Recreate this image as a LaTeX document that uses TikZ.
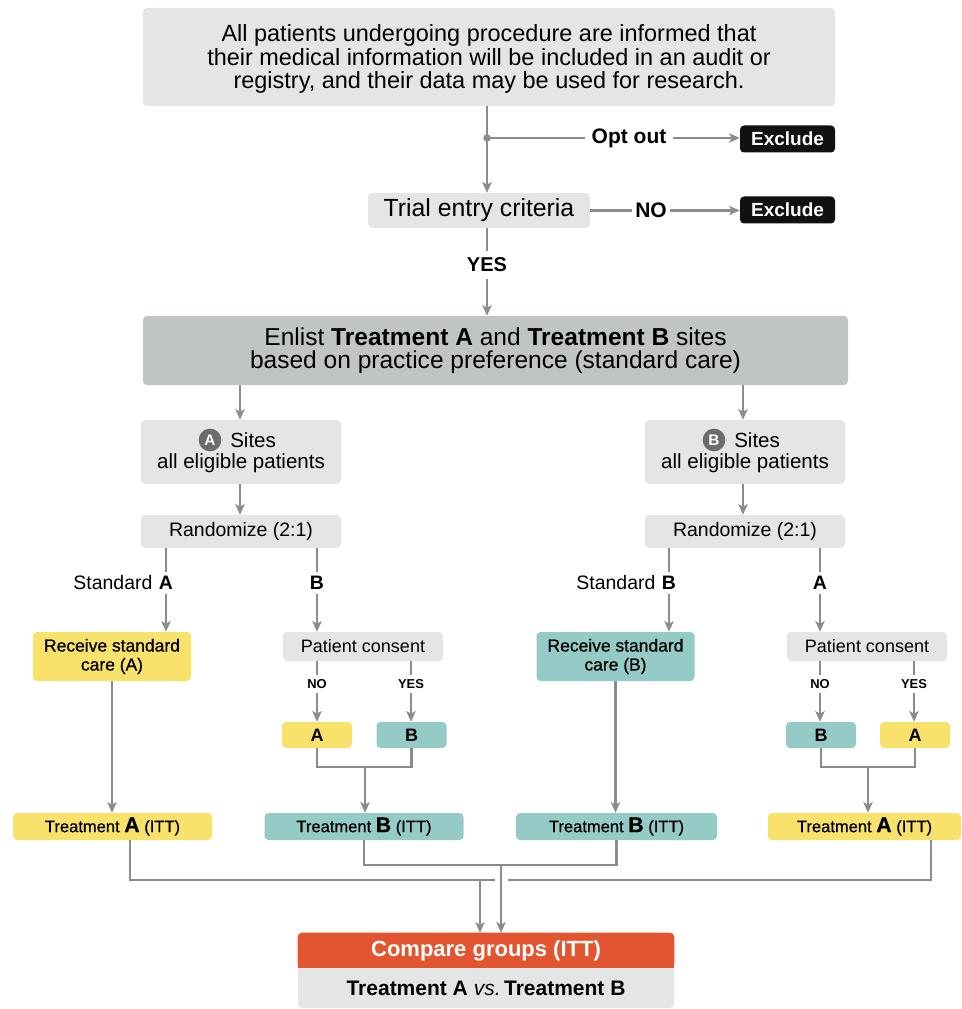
\documentclass[tikz,border=0pt]{standalone}
\usepackage{fontspec}
\setmainfont{Liberation Sans}
\newfontfamily\medfont{Liberation Sans}[FakeBold=0.7]
\usetikzlibrary{arrows.meta,calc}
\definecolor{lg}{HTML}{E3E6E5}
\definecolor{dg}{HTML}{C0C5C4}
\definecolor{yl}{HTML}{F9E26B}
\definecolor{tl}{HTML}{95CBC6}
\definecolor{lc}{HTML}{8C8C8C}
\definecolor{cg}{HTML}{6B6B6B}
\definecolor{blk}{HTML}{111111}
\definecolor{orng}{HTML}{E35430}
\newcommand\fsz[2]{\fontsize{#1}{#2}\selectfont}
\begin{document}
\begin{tikzpicture}[x=0.75pt,y=-0.75pt,
  wh/.style 2 args={minimum width=#1*0.75pt,minimum height=#2*0.75pt},
  box/.style={rounded corners=3pt,inner sep=0pt,align=center},
  ln/.style={draw=lc,line width=1.7pt},
  arr/.style={ln,-{Stealth[length=8pt,width=7pt,inset=2pt]}},
  exbox/.style={box,fill=blk,text=white,wh={95}{27},font=\bfseries\fsz{14.25pt}{14.25pt}},
  blab/.style={inner xsep=0pt,inner ysep=3pt,font=\bfseries\fsz{14.6pt}{14.6pt}},
  slab/.style={inner xsep=0pt,inner ysep=3pt,font=\bfseries\fsz{9.7pt}{9.7pt}},
  stdlab/.style={anchor=east,inner sep=0pt,font=\fsz{14.6pt}{14.6pt}},
  sitebox/.style={box,fill=lg,wh={200}{64}},
  sitetxt/.style={inner sep=0pt,font=\fsz{15.4pt}{15.4pt}},
  circ/.style={circle,fill=cg,text=white,inner sep=0pt,minimum size=17pt,font=\bfseries\fsz{11.5pt}{11.5pt}},
  randbox/.style={box,fill=lg,wh={200}{33},font=\fsz{14.6pt}{14.6pt}},
  recbox/.style={box,wh={158}{49},font=\medfont\fsz{13.1pt}{14.25pt}},
  pcbox/.style={box,fill=lg,wh={160}{29},font=\fsz{13.5pt}{13.5pt}},
  smallbox/.style={box,wh={70}{26},font=\bfseries\fsz{13.5pt}{13.5pt}},
  ittbox/.style={box,wh={199}{27},font=\medfont\fsz{12.4pt}{12.4pt}}
]
\useasboundingbox (0,0) rectangle (961,1009);

% top
\node[box,fill=lg,wh={692}{98}] (top) at (489,57) {};
\node[align=center,inner sep=0pt,font=\fsz{17.6pt}{17.8pt}] (toptxt) at (489,59)
  {All patients undergoing procedure are informed that\\their medical information will be included in an audit or\\registry, and their data may be used for research.};
\coordinate (j1) at (487,138);
\node[inner xsep=5pt,inner ysep=0pt,font=\bfseries\fsz{15.75pt}{15.75pt}] (opt) at (629,138) {Opt out};
\node[exbox] (ex1) at (787.5,139) {Exclude};
\node[box,fill=lg,wh={222}{35},font=\fsz{18.6pt}{18.6pt}] (trial) at (479,210.5) {Trial entry criteria};
\node[inner xsep=2.5pt,inner ysep=0pt,font=\bfseries\fsz{15.75pt}{15.75pt}] (no1) at (651,210.5) {NO};
\node[exbox] (ex2) at (787.5,210) {Exclude};
\node[inner xsep=0pt,inner ysep=5pt,font=\bfseries\fsz{15pt}{15pt}] (yes) at (487,265) {YES};

\draw[arr] (top.south -| j1) -- (trial.north -| j1);
\fill[lc] (j1) circle (2.8pt);
\draw[ln] (j1) -- (opt.west |- j1);
\draw[arr] (opt.east |- j1) -- (ex1.west |- j1);
\draw[ln] (trial.east) -- (no1.west |- trial.east);
\draw[arr] (no1.east |- trial.east) -- (ex2.west |- trial.east);
\draw[ln] (trial.south -| j1) -- (yes.north);

% enlist
\node[box,fill=dg,wh={705}{69},font=\fsz{18.4pt}{17.3pt}] (enl) at (495.5,350.5)
  {Enlist \textbf{Treatment A} and \textbf{Treatment B} sites\\based on practice preference (standard care)};
\draw[arr] (yes.south) -- (enl.north -| yes);

% sites
\node[sitebox] (sA) at (241,452) {};
\node[circ] (cA) at (210,440) {A};
\node[sitetxt,anchor=west] (sAt) at (230,440) {Sites};
\node[sitetxt] (sAe) at (241,463) {all eligible patients};
\node[sitebox] (sB) at (745,452) {};
\node[circ] (cB) at (714,440) {B};
\node[sitetxt,anchor=west] (sBt) at (734,440) {Sites};
\node[sitetxt] (sBe) at (745,463) {all eligible patients};
\draw[arr] (enl.south -| 240,0) -- (sA.north -| 240,0);
\draw[arr] (enl.south -| 743,0) -- (sB.north -| 743,0);

% randomize
\node[randbox] (rA) at (241,531.5) {Randomize (2:1)};
\node[randbox] (rB) at (745,531.5) {Randomize (2:1)};
\draw[arr] (sA.south -| 240,0) -- (rA.north -| 240,0);
\draw[arr] (sB.south -| 743,0) -- (rB.north -| 743,0);

% left branch labels
\node[blab] (lA1) at (166,583) {A};
\node[stdlab] (lA1s) at ($(lA1.west)+(-6,0)$) {Standard};
\node[blab] (lB1) at (317,583) {B};
\draw[ln] (rA.south -| lA1) -- (lA1.north);
\draw[ln] (rA.south -| lB1) -- (lB1.north);

% right branch labels
\node[blab] (lB2) at (669,583) {B};
\node[stdlab] (lB2s) at ($(lB2.west)+(-6,0)$) {Standard};
\node[blab] (lA2) at (820,583) {A};
\draw[ln] (rB.south -| lB2) -- (lB2.north);
\draw[ln] (rB.south -| lA2) -- (lA2.north);

% second level
\node[recbox,fill=yl] (recA) at (112,656.5) {Receive standard\\care (A)};
\node[pcbox] (pcA) at (363,646.5) {Patient consent};
\node[recbox,fill=tl] (recB) at (615.5,656.5) {Receive standard\\care (B)};
\node[pcbox] (pcB) at (867,646.5) {Patient consent};
\draw[arr] (lA1.south) -- (recA.north -| lA1);
\draw[arr] (lB1.south) -- (pcA.north -| lB1);
\draw[arr] (lB2.south) -- (recB.north -| lB2);
\draw[arr] (lA2.south) -- (pcB.north -| lA2);

% consent labels
\node[slab] (noA) at (317,684) {NO};
\node[slab] (yesA) at (411,684) {YES};
\node[slab] (noB) at (820,684) {NO};
\node[slab] (yesB) at (914,684) {YES};
\draw[ln] (pcA.south -| noA) -- (noA.north);
\draw[ln] (pcA.south -| yesA) -- (yesA.north);
\draw[ln] (pcB.south -| noB) -- (noB.north);
\draw[ln] (pcB.south -| yesB) -- (yesB.north);

% small boxes
\node[smallbox,fill=yl] (aA) at (317,735) {A};
\node[smallbox,fill=tl] (bA) at (411.5,735) {B};
\node[smallbox,fill=tl] (bB) at (821,735) {B};
\node[smallbox,fill=yl] (aB) at (915,735) {A};
\draw[arr] (noA.south) -- (aA.north -| noA);
\draw[arr] (yesA.south) -- (bA.north -| yesA);
\draw[arr] (noB.south) -- (bB.north -| noB);
\draw[arr] (yesB.south) -- (aB.north -| yesB);

% ITT boxes
\node[ittbox,fill=yl] (taA) at (112.5,826.5) {Treatment {\bfseries\fsz{16pt}{16pt}A} (ITT)};
\node[ittbox,fill=tl] (tbA) at (364,826.5) {Treatment {\bfseries\fsz{16pt}{16pt}B} (ITT)};
\node[ittbox,fill=tl,wh={201}{27}] (tbB) at (616.5,826.5) {Treatment {\bfseries\fsz{16pt}{16pt}B} (ITT)};
\node[ittbox,fill=yl,wh={193}{27}] (taB) at (864.5,826.5) {Treatment {\bfseries\fsz{16pt}{16pt}A} (ITT)};

\coordinate (mA) at (365,767);
\coordinate (mB) at (868,767);
\draw[ln] (aA.south) |- (mA) -| (bA.south);
\draw[ln] (bB.south) |- (mB) -| (aB.south);
\draw[arr] (mA) -- (tbA.north -| mA);
\draw[arr] (mB) -- (taB.north -| mB);
\draw[arr] (recA.south) -- (taA.north -| recA.south);
\draw[arr] (recB.south) -- (tbB.north -| recB.south);

% compare box
\node[box,fill=lg,wh={376}{75}] (cmp) at (486,970.5) {};
\fill[orng,rounded corners=3pt] (cmp.north west) rectangle ($(cmp.north east)+(0,35)$);
\fill[orng] ($(cmp.north west)+(0,20)$) rectangle ($(cmp.north east)+(0,35)$);
\node[text=white,inner sep=0pt,font=\bfseries\fsz{16.5pt}{16.5pt}] (cmpH) at ($(cmp.north)+(0,18)$) {Compare groups (ITT)};
\node[inner sep=0pt,font=\bfseries\fsz{15.75pt}{15.75pt}] (cmpB) at (486,988) {Treatment A {\mdseries\itshape vs.}\,Treatment B};

% bottom connectors
\coordinate (oL) at (130,880);
\coordinate (oR) at (931,880);
\coordinate (oM) at (480,880);
\coordinate (iM) at (501,865);
\draw[ln] (oL |- taA.south) -- (oL) -- (oR) -- (oR |- taB.south);
\draw[ln] (tbA.south) |- (iM) -| (tbB.south);
\draw[arr] (oM) -- (cmp.north -| oM);
\draw[white,line width=3pt] (495,880) -- (508,880);
\draw[arr] (iM) -- (cmp.north -| iM);
\end{tikzpicture}
\end{document}
